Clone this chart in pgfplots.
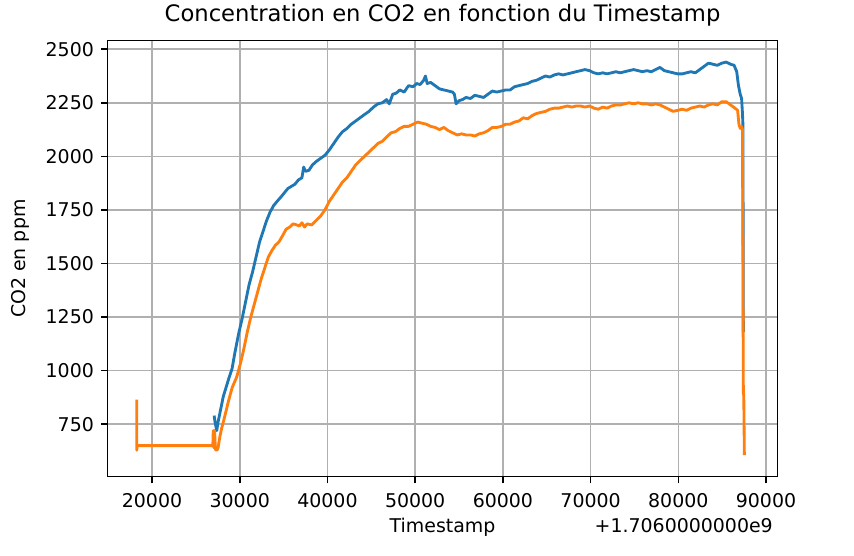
\documentclass[border=0pt]{standalone}
\usepackage{pgfplots}
\pgfplotsset{compat=1.18}
\usepackage{fontspec}
\setmainfont{DejaVu Sans}
\definecolor{mplblue}{HTML}{1F77B4}
\definecolor{mplorange}{HTML}{FF7F0E}
\definecolor{gridgray}{HTML}{B0B0B0}
\begin{document}
\begin{tikzpicture}
\path (-80.8pt,-59.5pt) rectangle (559.7pt,357.5pt);
\begin{axis}[
  at={(0,0)}, anchor=south west,
  scale only axis, width=502.2pt, height=327pt,
  xmin=14950, xmax=91290, ymin=505, ymax=2540,
  xtick={20000,30000,...,90000},
  ytick={750,1000,...,2500},
  grid=major, grid style={gridgray, line width=1.14pt},
  axis line style={line width=1.14pt},
  tick style={black, line width=1.14pt},
  major tick length=5pt,
  tick align=outside,
  xtick pos=bottom, ytick pos=left,
  scaled x ticks=false, scaled y ticks=false,
  /pgf/number format/1000 sep={},
  /pgf/number format/assume math mode=true,
  ticklabel style={font=\fontsize{14.2}{17}\selectfont},
  xticklabel style={inner sep=0pt, yshift=-7.7pt},
  yticklabel style={inner sep=0pt, xshift=-5.2pt},
  title={Concentration en CO2 en fonction du Timestamp},
  title style={at={(rel axis cs:0.5,1)}, anchor=base, yshift=8.55pt, inner sep=0pt, font=\fontsize{17}{20}\selectfont},
  xlabel={Timestamp},
  xlabel style={at={([yshift=-31pt]rel axis cs:0.5,0)}, anchor=north, inner sep=0pt, font=\fontsize{14.2}{17}\selectfont},
  ylabel={CO2 en ppm},
  ylabel style={at={([xshift=-65.8pt]rel axis cs:0,0.5)}, anchor=center, inner sep=0pt, font=\fontsize{14.2}{17}\selectfont},
  after end axis/.code={\node[anchor=north east, inner sep=0pt, font=\fontsize{14.2}{17}\selectfont] at ([yshift=-31pt,xshift=-3.2pt]rel axis cs:1,0) {+1.7060000000e9};},
]
\addplot[mplblue, line width=2.13pt, line join=round] coordinates {
(27080,790)(27180,760)(27380,720)(27530,760)(27730,800)(27930,840)(28130,880)(28430,920)
(28730,960)(29130,1010)(29430,1080)(29860,1170)(30260,1240)(30660,1320)(31060,1400)(31460,1460)
(31860,1530)(32260,1600)(32660,1650)(33060,1700)(33460,1740)(33860,1770)(34260,1790)(34690,1810)
(35090,1830)(35490,1850)(35890,1860)(36290,1870)(36690,1890)(37090,1900)(37290,1950)(37490,1930)
(37890,1935)(38290,1960)(38690,1975)(39190,1990)(39715,2005)(40215,2030)(40715,2060)(41215,2090)
(41715,2115)(42215,2130)(42715,2150)(43215,2165)(43715,2180)(44215,2195)(44745,2210)(45245,2230)
(45745,2245)(46245,2250)(46745,2265)(47045,2245)(47445,2290)(47845,2295)(48245,2310)(48745,2300)
(49245,2330)(49770,2325)(50170,2340)(50570,2335)(50970,2355)(51170,2375)(51370,2340)(51770,2345)
(52270,2330)(52770,2315)(53270,2310)(53770,2305)(54270,2300)(54470,2290)(54670,2245)(55000,2260)
(55400,2265)(55800,2275)(56300,2270)(56800,2285)(57300,2280)(57800,2275)(58300,2290)(58800,2305)
(59300,2300)(59825,2305)(60325,2310)(60825,2310)(61325,2325)(61825,2330)(62325,2335)(62825,2340)
(63325,2350)(63825,2355)(64325,2365)(64855,2375)(65355,2370)(65855,2380)(66355,2385)(66855,2380)
(67355,2385)(67855,2390)(68355,2395)(68855,2400)(69355,2405)(69880,2400)(70380,2390)(70880,2385)
(71380,2390)(71880,2385)(72380,2390)(72880,2395)(73380,2390)(73880,2395)(74380,2400)(74910,2405)
(75410,2400)(75910,2395)(76410,2400)(76910,2395)(77410,2405)(77910,2415)(78410,2400)(78910,2395)
(79410,2390)(79940,2385)(80440,2385)(80940,2390)(81440,2395)(81940,2390)(82440,2405)(82940,2420)
(83440,2435)(83940,2430)(84440,2425)(84960,2435)(85460,2440)(85960,2430)(86360,2425)(86660,2395)
(86860,2330)(87060,2290)(87215,2270)(87315,2200)(87365,2150)(87415,1180)
};
\addplot[mplorange, line width=2.13pt, line join=round] coordinates {
(18260,865)(18260,628)(18300,650)(26930,650)(26980,720)(27030,640)(27130,720)(27230,630)
(27430,630)(27530,640)(27730,690)(27930,730)(28130,760)(28430,810)(28730,860)(29130,920)
(29650,970)(30060,1030)(30460,1100)(30860,1180)(31260,1250)(31660,1310)(32060,1370)(32460,1430)
(32860,1480)(33260,1530)(33660,1560)(34060,1585)(34460,1600)(34890,1630)(35290,1660)(35690,1670)
(36090,1685)(36490,1680)(36790,1675)(37090,1690)(37390,1670)(37690,1685)(38190,1680)(38690,1700)
(39190,1720)(39715,1750)(40215,1790)(40715,1820)(41215,1850)(41715,1880)(42215,1900)(42715,1930)
(43215,1960)(43715,1980)(44215,2000)(44745,2020)(45245,2040)(45745,2060)(46245,2070)(46745,2090)
(47245,2110)(47745,2115)(48245,2130)(48745,2140)(49245,2140)(49770,2150)(50270,2160)(50770,2155)
(51270,2150)(51770,2140)(52270,2135)(52770,2125)(53270,2135)(53770,2120)(54270,2110)(54800,2100)
(55300,2105)(55800,2100)(56300,2100)(56800,2095)(57300,2105)(57800,2110)(58300,2120)(58800,2135)
(59300,2135)(59825,2140)(60325,2150)(60825,2150)(61325,2160)(61825,2165)(62325,2180)(62825,2175)
(63325,2190)(63825,2200)(64325,2205)(64855,2210)(65355,2220)(65855,2225)(66355,2225)(66855,2230)
(67355,2235)(67855,2230)(68355,2235)(68855,2235)(69355,2230)(69880,2235)(70380,2225)(70880,2220)
(71380,2230)(71880,2225)(72380,2235)(72880,2240)(73380,2240)(73880,2245)(74380,2250)(74910,2245)
(75410,2250)(75910,2245)(76410,2245)(76910,2240)(77410,2245)(77910,2240)(78410,2230)(78910,2220)
(79410,2210)(79940,2215)(80440,2220)(80940,2215)(81440,2225)(81940,2230)(82440,2235)(82940,2230)
(83440,2240)(83940,2245)(84440,2240)(84960,2255)(85460,2255)(85960,2240)(86460,2225)(86760,2215)
(86910,2150)(87060,2130)(87215,2140)(87315,2125)(87415,900)(87465,880)(87530,605)
};
\end{axis}
\end{tikzpicture}
\end{document}
